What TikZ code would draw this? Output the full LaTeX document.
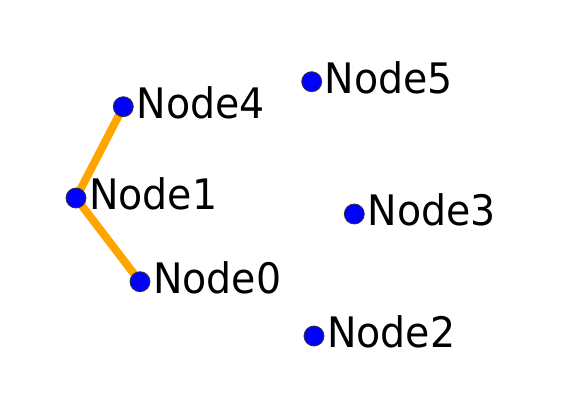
\documentclass[tikz,border=0pt]{standalone}
\usepackage{fontspec}
\setmainfont{DejaVu Sans}
\newfontfamily\lblfont[FakeStretch=0.94]{DejaVu Sans}
\usetikzlibrary{backgrounds}
\definecolor{edgeorange}{RGB}{255,165,0}
\begin{document}
\begin{tikzpicture}[x=1pt,y=1pt,
  dot/.style={circle,fill=blue,draw=black!80,line width=0.8pt,minimum size=20pt,inner sep=0pt},
  lbl/.style={anchor=base west,inner sep=0pt,font=\lblfont\fontsize{42}{42}\selectfont},
  edge/.style={draw=edgeorange,line width=8pt}]
\useasboundingbox (0,0) rectangle (578,402);
\node[dot] (n4) at (123.3,295.3) {};
\node[dot] (n1) at (76,204) {};
\node[dot] (n0) at (140,120.3) {};
\node[dot] (n5) at (311.7,320.3) {};
\node[dot] (n3) at (354.3,188) {};
\node[dot] (n2) at (314,66) {};
\node[lbl] (l4) at ([xshift=13pt,yshift=-11.5pt]n4.center) {Node4};
\node[lbl] (l1) at ([xshift=13pt,yshift=-11.5pt]n1.center) {Node1};
\node[lbl] (l0) at ([xshift=13pt,yshift=-11.5pt]n0.center) {Node0};
\node[lbl] (l5) at ([xshift=13pt,yshift=-11.5pt]n5.center) {Node5};
\node[lbl] (l3) at ([xshift=13pt,yshift=-11.5pt]n3.center) {Node3};
\node[lbl] (l2) at ([xshift=13pt,yshift=-11.5pt]n2.center) {Node2};
\begin{scope}[on background layer]
\draw[edge] (n4.center) -- (n1.center) -- (n0.center);
\end{scope}
\end{tikzpicture}
\end{document}
